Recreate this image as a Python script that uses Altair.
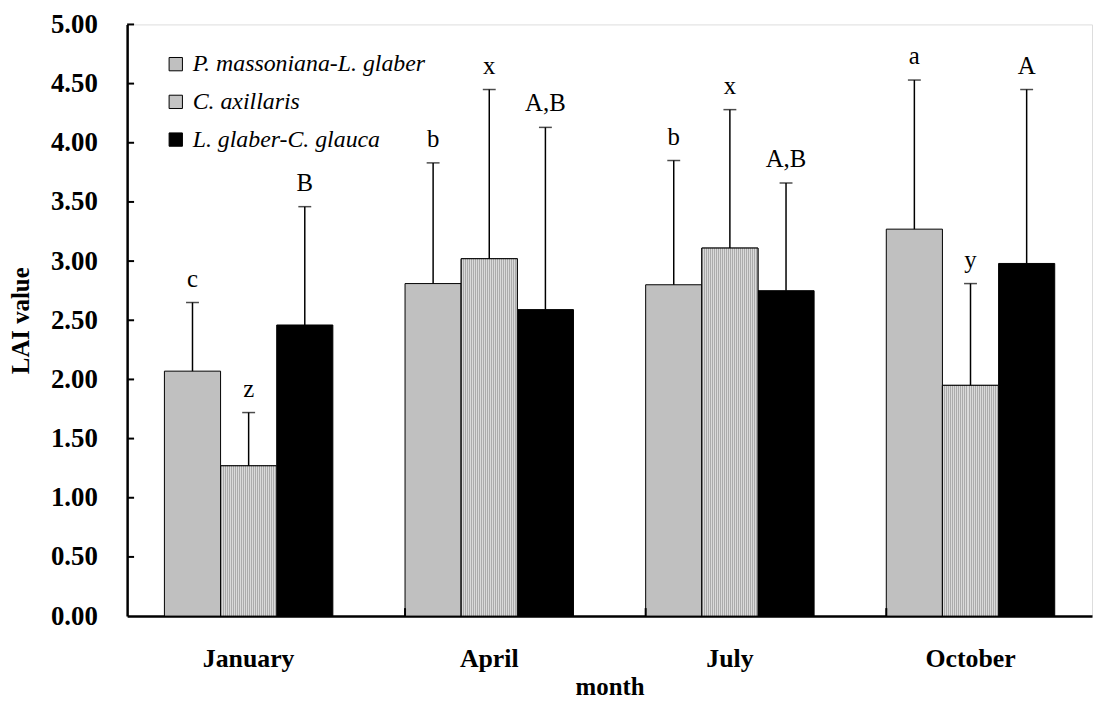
import altair as alt
import pandas as pd

months = ["January", "April", "July", "October"]
series = ["P. massoniana-L. glaber", "C. axillaris", "L. glaber-C. glauca"]
means = {
    "P. massoniana-L. glaber": [2.07, 2.81, 2.80, 3.27],
    "C. axillaris": [1.27, 3.02, 3.11, 1.95],
    "L. glaber-C. glauca": [2.46, 2.59, 2.75, 2.98],
}
uppers = {
    "P. massoniana-L. glaber": [2.65, 3.83, 3.85, 4.53],
    "C. axillaris": [1.72, 4.45, 4.28, 2.81],
    "L. glaber-C. glauca": [3.46, 4.13, 3.66, 4.45],
}
letters = {
    "P. massoniana-L. glaber": ["c", "b", "b", "a"],
    "C. axillaris": ["z", "x", "x", "y"],
    "L. glaber-C. glauca": ["B", "A,B", "A,B", "A"],
}
y_ticks = [0.5, 1.0, 1.5, 2.0, 2.5, 3.0, 3.5, 4.0, 4.5, 5.0]
x_tick_months = ["April", "July", "October"]

rows = []
for s in series:
    for i, m in enumerate(months):
        rows.append({"month": m, "series": s, "mean": means[s][i],
                     "upper": uppers[s][i], "letter": letters[s][i]})
df = pd.DataFrame(rows)

FONT = "Liberation Serif"

x_enc = alt.X("month:N", sort=months,
              scale=alt.Scale(paddingInner=0.3, paddingOuter=0.155),
              axis=alt.Axis(title="month", labelAngle=0, tickSize=0,
                            labelPadding=30, titlePadding=3,
                            labelFont=FONT, labelFontSize=26, labelFontWeight="bold",
                            labelColor="black", titleFont=FONT, titleFontSize=25,
                            titleFontWeight="bold", titleColor="black",
                            domainColor="black", domainWidth=2.5))
xo_enc = alt.XOffset("series:N", sort=series, scale=alt.Scale(paddingInner=0, paddingOuter=0))

y_scale = alt.Scale(domain=[0, 5])

base = alt.Chart(df)

bars = base.mark_bar(stroke="black", strokeWidth=1).encode(
    x=x_enc,
    xOffset=xo_enc,
    y=alt.Y("mean:Q", scale=y_scale,
            axis=alt.Axis(title="LAI value", values=y_ticks + [0.0], format=".2f",
                          tickSize=0, labelPadding=30, titlePadding=17, grid=False,
                          labelFont=FONT, labelFontSize=27, labelFontWeight="bold",
                          labelColor="black", titleFont=FONT, titleFontSize=25,
                          titleFontWeight="bold", titleColor="black",
                          domainColor="black", domainWidth=2.5)),
    fill=alt.Fill("series:N", sort=series,
                  scale=alt.Scale(domain=series, range=["#c0c0c0", "#c4c4c4", "#000000"]),
                  legend=alt.Legend(title=None, orient="none", legendX=37, legendY=28,
                                    symbolType="square", symbolSize=180,
                                    symbolStrokeColor="black", symbolStrokeWidth=1,
                                    labelFont=FONT, labelFontSize=24, labelFontStyle="italic",
                                    labelColor="black", labelOffset=5, rowPadding=14,
                                    labelLimit=0, padding=0)),
)

stops = []
n = 56
for i in range(n):
    c = "#ababab" if i % 2 == 0 else "#dadada"
    stops.append(alt.GradientStop(offset=i / n, color=c))
    stops.append(alt.GradientStop(offset=(i + 1) / n, color=c))
hatch = alt.LinearGradient(gradient="linear", stops=stops, x1=0, x2=1, y1=0, y2=0)

hatched = base.transform_filter(alt.datum.series == "C. axillaris").mark_bar(
    fill=hatch, stroke="black", strokeWidth=1
).encode(x=x_enc, xOffset=xo_enc, y=alt.Y("mean:Q", scale=y_scale))

err = base.mark_rule(color="black", strokeWidth=1.5).encode(
    x=x_enc, xOffset=xo_enc,
    y=alt.Y("mean:Q", scale=y_scale), y2="upper:Q")

caps = base.mark_tick(color="black", orient="horizontal", size=13, thickness=1.5).encode(
    x=x_enc, xOffset=xo_enc, y=alt.Y("upper:Q", scale=y_scale))

labels = base.mark_text(font=FONT, fontSize=25, color="black", baseline="alphabetic",
                        dy=-16).encode(
    x=x_enc, xOffset=xo_enc, y=alt.Y("upper:Q", scale=y_scale), text="letter:N")

ytick_rules = alt.Chart(pd.DataFrame({"v": y_ticks})).mark_rule(
    color="black", strokeWidth=2).encode(
    y=alt.Y("v:Q", scale=y_scale), x=alt.value(0), x2=alt.value(7))

xtick_rules = alt.Chart(pd.DataFrame({"month": x_tick_months})).mark_rule(
    color="black", strokeWidth=2).encode(
    x=alt.X("month:N", sort=months, bandPosition=0),
    y=alt.value(596), y2=alt.value(588))

chart = alt.layer(bars, hatched, err, caps, labels, ytick_rules, xtick_rules).properties(
    width=972, height=596,
    autosize=alt.AutoSizeParams(type="none"),
    padding={"left": 120, "top": 14, "right": 3, "bottom": 85},
).configure_view(stroke=None).configure(background="white")

chart.save("out.html", embed_options={"renderer": "svg", "actions": False})
